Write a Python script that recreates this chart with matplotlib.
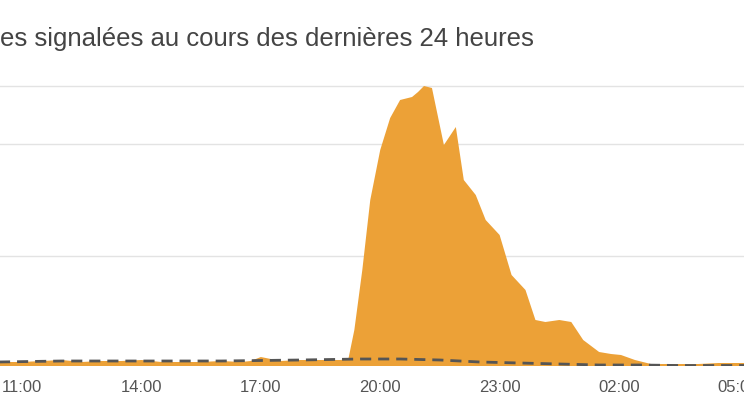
import matplotlib
matplotlib.use("Agg")
import matplotlib.pyplot as plt

# hours after 11:00
hours = [-0.6, 0.0, 0.5, 1.0, 1.5, 2.0, 2.5, 3.0, 3.5, 4.0, 4.5, 5.0, 5.5, 5.75, 6.0, 6.5, 7.0, 7.5, 8.0, 8.2,
         8.35, 8.55, 8.75, 9.0, 9.25, 9.5, 9.8, 9.95, 10.1, 10.3, 10.6, 10.9, 11.1, 11.4, 11.65, 12.0,
         12.3, 12.65, 12.9, 13.15, 13.5, 13.8, 14.1, 14.5, 14.8, 15.05, 15.4, 15.8, 16.2, 16.6, 17.0, 17.5, 18.3]
reports = [4, 4, 5, 6, 4, 5, 5, 6, 4, 4, 4, 5, 4, 5, 9, 5, 6, 6, 6, 7,
           36, 96, 166, 216, 248, 266, 269, 274, 280, 278, 221, 239, 186, 171, 146, 131,
           91, 76, 46, 44, 46, 44, 26, 14, 12, 11, 6, 2, 2, 2, 2, 3, 3]
base_h = [-0.6, 1.0, 3.0, 5.0, 7.0, 8.5, 9.5, 10.5, 11.5, 12.5, 13.5, 14.5, 15.5, 16.5, 18.3]
baseline = [4, 5, 5, 5, 6, 7, 7, 6, 4, 3, 2, 1, 1, 0.5, 0.5]
tick_h = [0, 3, 6, 9, 12, 15, 18]
tick_labels = ["11:00", "14:00", "17:00", "20:00", "23:00", "02:00", "05:00"]
grid_vals = [110, 222, 280]

fig = plt.figure(figsize=(7.44, 4.18), dpi=100)
ax = fig.add_axes([0, 52/418, 1, (366-52)/418 * 1.0])
ax.set_xlim(-0.553, 18.14)
ax.set_ylim(0, 314)
ax.fill_between(hours, reports, color="#eca137", linewidth=0, zorder=2)
ax.plot(base_h, baseline, color="#555555", linestyle=(0, (4, 2.5)), linewidth=2, zorder=3)
for g in grid_vals:
    ax.axhline(g, color="#e3e3e3", linewidth=1, zorder=1)
for s in ax.spines.values():
    s.set_visible(False)
ax.set_yticks([])
ax.set_xticks(tick_h)
ax.set_xticklabels(tick_labels, color="#555555", fontsize=12, family="Liberation Sans")
ax.tick_params(axis="x", length=0, pad=10)
fig.text(0.0, 1 - 46/418, "es signalées au cours des dernières 24 heures",
         fontsize=18.5, color="#444444", ha="left", va="baseline", family="Liberation Sans")
fig.savefig("out.png", dpi=100)
